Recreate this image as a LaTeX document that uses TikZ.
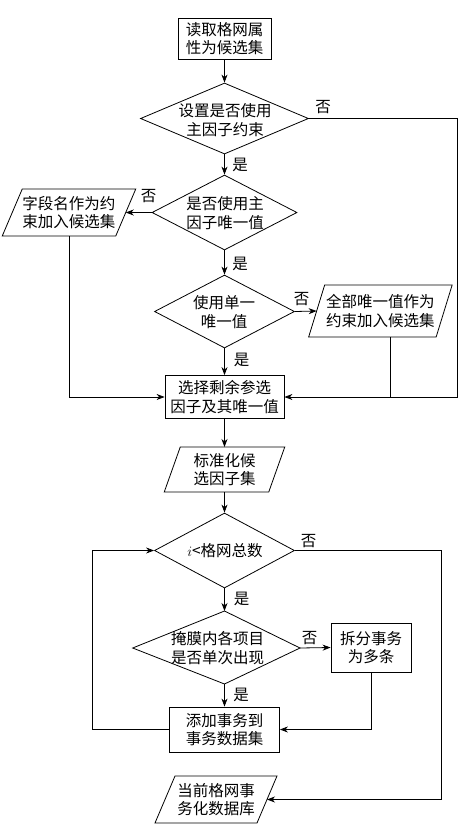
\documentclass[tikz,border=0pt]{standalone}
\usepackage{fontspec}
\setmainfont{Noto Sans CJK SC}
\usetikzlibrary{shapes.geometric,arrows.meta,calc}
\newcommand\myfs{\fontsize{15.5}{18.5}\selectfont}
\newcommand\mypara[7]{%
  \node[txt] (#1) at (#2,#3) {#7};
  \draw[line] ({#2-#4/2+#6/2},{#3-#5/2}) -- ({#2+#4/2+#6/2},{#3-#5/2}) -- ({#2+#4/2-#6/2},{#3+#5/2}) -- ({#2-#4/2-#6/2},{#3+#5/2}) -- cycle;
  \coordinate (#1-e) at ({#2+#4/2},#3);
  \coordinate (#1-w) at ({#2-#4/2},#3);
  \coordinate (#1-n) at (#2,{#3-#5/2});
  \coordinate (#1-s) at (#2,{#3+#5/2});
}
\begin{document}
\begin{tikzpicture}[x=1pt,y=-1pt,
  line/.style={draw=black,line width=0.8pt},
  arr/.style={line,-{Stealth[length=8pt,width=6pt,inset=2.5pt]}},
  box/.style={line,rectangle,inner sep=0pt,align=center,font=\myfs},
  dia/.style={line,diamond,inner sep=0pt},
  txt/.style={align=center,inner sep=0pt,font=\myfs},
  lbl/.style={inner sep=0pt,font=\myfs}]
\useasboundingbox (0,0) rectangle (472,839);

% boxes
\node[box,minimum width=93pt,minimum height=41pt] (b1) at (224.5,38.5) {读取格网属\\性为候选集};
\node[box,minimum width=119pt,minimum height=43pt] (b2) at (224.5,397) {选择剩余参选\\因子及其唯一值};
\node[box,minimum width=80pt,minimum height=49pt] (b3) at (371,647.5) {拆分事务\\为多条};
\node[box,minimum width=110pt,minimum height=45pt] (b4) at (224.5,729.5) {添加事务到\\事务数据集};

% diamonds
\node[dia,minimum width=168pt,minimum height=71pt] (d1) at (224.5,118.5) {};
\node[txt] (d1t) at (225,120) {设置是否使用\\主因子约束};
\node[dia,minimum width=145pt,minimum height=75pt] (d2) at (224.5,212.5) {};
\node[txt] (d2t) at (225,213) {是否使用主\\因子唯一值};
\node[dia,minimum width=140pt,minimum height=73pt] (d3) at (224.5,311.5) {};
\node[txt] (d3t) at (224,312) {使用单一\\唯一值};
\node[dia,minimum width=140pt,minimum height=75pt] (d4) at (224.5,550.5) {};
\node[txt] (d4t) at (225,550.5) {$i$<格网总数};
\coordinate (d5l) at (132.7,648);
\coordinate (d5n) at (224.5,611);
\coordinate (d5r) at (300,648);
\coordinate (d5s) at (224.5,684);
\draw[line] (d5l) -- (d5n) -- (d5r) -- (d5s) -- cycle;
\node[txt] (d5) at (217.5,648) {掩膜内各项目\\是否单次出现};

% parallelograms
\mypara{p1}{69}{212.5}{113.5}{47}{20}{字段名作为约\\束加入候选集}
\mypara{p2}{380.4}{311}{127.5}{52}{16}{全部唯一值作为\\约束加入候选集}
\mypara{p3}{224.5}{469.5}{104.5}{45}{16}{标准化候\\选因子集}
\mypara{p4}{216}{799.5}{102}{47}{20}{当前格网事\\务化数据库}

% connectors
\draw[arr] (b1.south) -- (d1.north);
\coordinate (r1) at (457,118.5);
\draw[arr] (d1.east) -- (r1) |- (b2.east);
\draw[arr] (d1.south) -- (d2.north);
\draw[arr] (d2.west) -- (p1-e);
\draw[arr] (d2.south) -- (d3.north);
\draw[arr] (d3.east) -- (p2-w);
\draw[arr] (d3.south) -- (b2.north);
\draw[arr] (p1-s) |- (b2.west);
\coordinate (p2b) at (390,337);
\draw[line] (p2b) -- (p2b |- b2.east);
\draw[arr] (b2.south) -- (p3-n);
\draw[arr] (p3-s) -- (d4.north);
\coordinate (r2) at (441,550.5);
\draw[arr] (d4.east) -- (r2) |- (p4-e);
\draw[arr] (d4.south) -- (d5n);
\draw[arr] (d5r) -- (b3.west);
\draw[arr] (d5s) -- (b4.north);
\draw[arr] (b3.south) |- (b4.east);
\coordinate (l1) at (92,729.5);
\draw[arr] (b4.west) -- (l1) |- (d4.west);

% labels
\node[lbl] (n1) at (323,107.5) {否};
\node[lbl] (y1) at (240,164.5) {是};
\node[lbl] (n2) at (148.5,196) {否};
\node[lbl] (y2) at (240,264) {是};
\node[lbl] (n3) at (301.5,299) {否};
\node[lbl] (y3) at (241.5,360) {是};
\node[lbl] (n4) at (308.5,541) {否};
\node[lbl] (y4) at (241.5,598.5) {是};
\node[lbl] (n5) at (309.5,638.5) {否};
\node[lbl] (y5) at (241,695) {是};
\end{tikzpicture}
\end{document}
